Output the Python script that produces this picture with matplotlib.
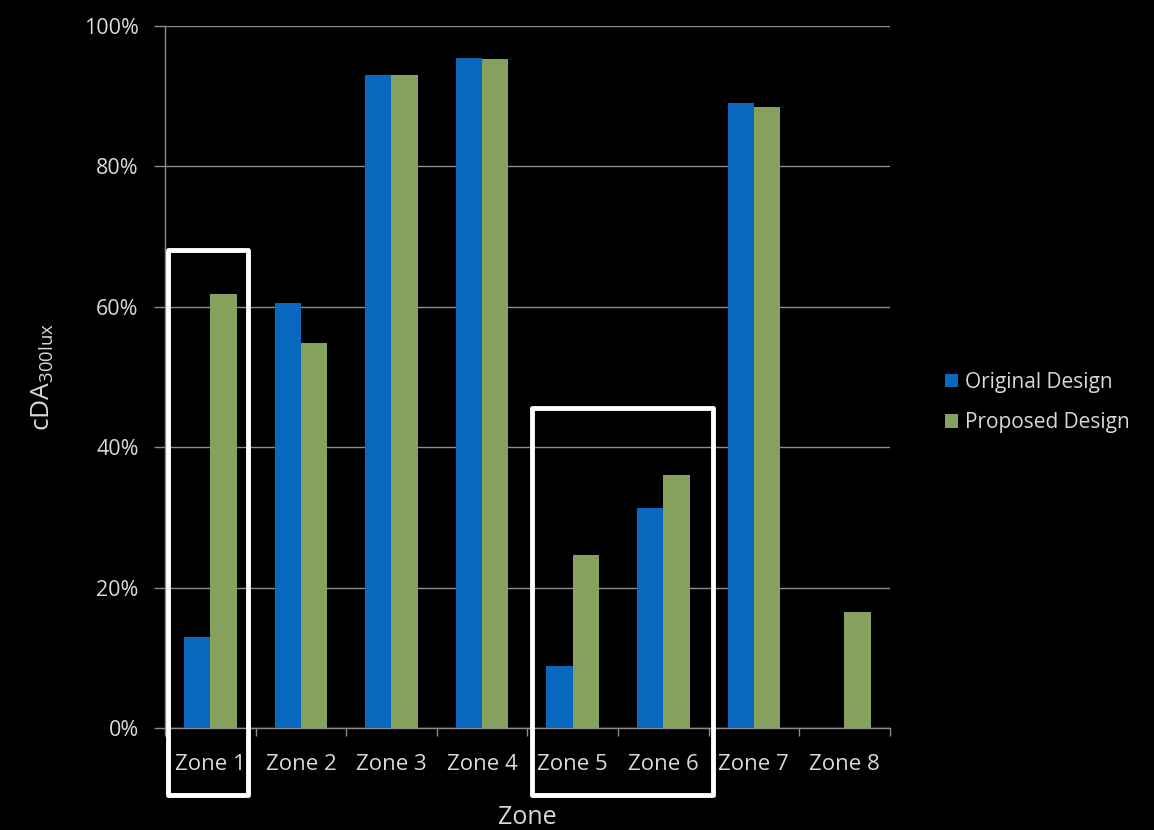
import numpy as np
import matplotlib
matplotlib.use("Agg")
import matplotlib.pyplot as plt
from matplotlib.patches import Rectangle
from matplotlib.ticker import PercentFormatter

# --- données ---
zones = ["Zone 1", "Zone 2", "Zone 3", "Zone 4", "Zone 5", "Zone 6", "Zone 7", "Zone 8"]
original = [13.0, 60.6, 93.0, 95.4, 8.8, 31.4, 89.0, 0.0]
proposed = [61.8, 54.9, 93.0, 95.3, 24.7, 36.0, 88.4, 16.5]
series_names = ["Original Design", "Proposed Design"]

blue = "#0768be"
green = "#86a05e"
txt = "#d9d9d9"
grid = "#8c8c8c"

plt.rcParams["font.family"] = ["Open Sans", "DejaVu Sans"]

fig = plt.figure(figsize=(11.54, 8.30), dpi=100, facecolor="black")
ax = fig.add_axes([0.143, 0.1229, 0.628, 0.8458], facecolor="black")

x = np.arange(len(zones))
w = 0.29
ax.bar(x - w / 2, original, w, color=blue, label=series_names[0], zorder=3)
ax.bar(x + w / 2, proposed, w, color=green, label=series_names[1], zorder=3)

ax.set_xlim(-0.5, len(zones) - 0.5)
ax.set_ylim(0, 100)
ax.set_yticks(range(0, 101, 20))
ax.yaxis.set_major_formatter(PercentFormatter(decimals=0))
ax.grid(axis="y", color=grid, linewidth=1, zorder=0)

ax.set_xticks(x)
ax.set_xticklabels(zones)
ax.set_xticks(np.arange(-0.5, len(zones)), minor=True)
ax.tick_params(axis="x", which="major", length=0, pad=19, colors=txt, labelsize=16)
ax.tick_params(axis="x", which="minor", length=6, color=grid, width=1)
ax.tick_params(axis="y", length=8, color=grid, width=1, pad=11, colors=txt, labelsize=15.5)

for s in ["top", "right"]:
    ax.spines[s].set_visible(False)
for s in ["left", "bottom"]:
    ax.spines[s].set_color(grid)
    ax.spines[s].set_linewidth(1)

ax.set_xlabel("Zone", color=txt, fontsize=18, labelpad=21)
ax.set_ylabel(r"cDA$_{\mathregular{300lux}}$", color=txt, fontsize=19, labelpad=20)

# cadres blancs de mise en évidence
for x0, x1, ytop in [(-0.467, 0.416, 68.1), (3.55, 5.55, 45.6)]:
    ax.add_patch(Rectangle((x0, -9.6), x1 - x0, ytop + 9.6, fill=False,
                           edgecolor="white", linewidth=3.5, joinstyle="round",
                           clip_on=False, zorder=5))

leg = fig.legend(loc="center left", bbox_to_anchor=(0.803, 0.515), frameon=False,
                 fontsize=15, handlelength=0.6, handleheight=0.6, handletextpad=0.35,
                 labelspacing=0.95, labelcolor=txt)

fig.savefig("out.png", dpi=100, facecolor="black")
